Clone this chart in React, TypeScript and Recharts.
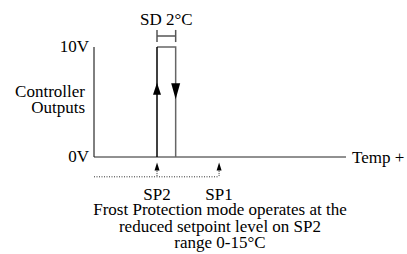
import React from "react";
import {
  ComposedChart,
  Line,
  Scatter,
  XAxis,
  YAxis,
  ReferenceLine,
  Label,
} from "recharts";

// Temperature positions (schematic units) and output levels (V)
const SP2 = 6.75;
const SD = 2;
const SP1 = 13.4;
const V_MIN = 0;
const V_MAX = 10;

const xDomain = [0, 27];
const yDomain = [-2, 13];

const riseSeries = [
  { t: SP2, v: V_MIN },
  { t: SP2, v: V_MAX },
];
const fallSeries = [
  { t: SP2, v: V_MAX },
  { t: SP2 + SD, v: V_MAX },
  { t: SP2 + SD, v: V_MIN },
];
const upArrowPts = [{ t: SP2, v: 6.75 }];
const downArrowPts = [{ t: SP2 + SD, v: 5.25 }];
const spMarkerPts = [
  { t: SP2, v: -0.5 },
  { t: SP1, v: -0.5 },
];
const spTicks = [SP2, SP1];
const spTickLabels = ["SP2", "SP1"];
const vTicks = [V_MIN, V_MAX];
const vTickLabels = ["0V", "10V"];
const sdBracketLevel = 11;
const dottedLevel = -1.8;

const yLabelLines = ["Controller", "Outputs"];
const noteLines = [
  "Frost Protection mode operates at the",
  "reduced setpoint level on SP2",
  "range 0-15°C",
];

const FONT = "'Liberation Serif', 'Times New Roman', serif";
const FS = 17;

const UpArrow = (props: any) => {
  const { cx, cy } = props;
  return (
    <path
      d={`M${cx},${cy} L${cx + 4},${cy + 12} L${cx - 4},${cy + 12} Z`}
      fill="#000"
    />
  );
};

const DownArrow = (props: any) => {
  const { cx, cy } = props;
  return (
    <path
      d={`M${cx},${cy} L${cx + 4.5},${cy - 16} L${cx - 4.5},${cy - 16} Z`}
      fill="#000"
    />
  );
};

const SmallArrow = (props: any) => {
  const { cx, cy } = props;
  return (
    <path
      d={`M${cx},${cy} L${cx + 2.5},${cy + 8} L${cx - 2.5},${cy + 8} Z`}
      fill="#000"
    />
  );
};

const XTick = (props: any) => {
  const { x, y, payload } = props;
  const idx = spTicks.indexOf(payload.value);
  return (
    <text
      x={x}
      y={y + 21}
      textAnchor="middle"
      fontFamily={FONT}
      fontSize={FS}
      fill="#000"
    >
      {spTickLabels[idx]}
    </text>
  );
};

const YTick = (props: any) => {
  const { x, y, payload } = props;
  const idx = vTicks.indexOf(payload.value);
  return (
    <text
      x={x}
      y={y + 5}
      textAnchor="end"
      fontFamily={FONT}
      fontSize={FS}
      fill="#000"
    >
      {vTickLabels[idx]}
    </text>
  );
};

const NoteLabel = (props: any) => {
  const { viewBox } = props;
  const cx = viewBox.x + viewBox.width / 2;
  const offsets = [36, 52.5, 69];
  return (
    <text textAnchor="middle" fontFamily={FONT} fontSize={FS} fill="#000">
      {noteLines.map((l, i) => (
        <tspan key={i} x={cx} y={viewBox.y + offsets[i]}>
          {l}
        </tspan>
      ))}
    </text>
  );
};

const YTitle = (props: any) => {
  const { viewBox } = props;
  const right = viewBox.x + viewBox.width;
  const offsets = [83, 99];
  return (
    <text textAnchor="end" fontFamily={FONT} fontSize={FS} fill="#000">
      {yLabelLines.map((l, i) => (
        <tspan key={i} x={right - 9} y={viewBox.y + offsets[i]}>
          {l}
        </tspan>
      ))}
    </text>
  );
};

export default function App() {
  return (
    <div style={{ position: "absolute", left: 0, top: 0 }}>
      <ComposedChart
        width={407}
        height={254}
        margin={{ top: 14, right: 61, bottom: 0, left: 0 }}
      >
        <XAxis
          dataKey="t"
          type="number"
          domain={xDomain}
          ticks={spTicks}
          tick={<XTick />}
          axisLine={false}
          tickLine={false}
          tickSize={0}
          tickMargin={0}
          height={75}
          allowDataOverflow
        >
          <Label content={<NoteLabel />} />
        </XAxis>
        <YAxis
          type="number"
          domain={yDomain}
          ticks={vTicks}
          tick={<YTick />}
          axisLine={false}
          tickLine={false}
          tickSize={0}
          tickMargin={5}
          width={94}
          allowDataOverflow
        >
          <Label content={<YTitle />} />
        </YAxis>

        {/* Axes */}
        <ReferenceLine
          segment={[
            { x: 0, y: V_MIN },
            { x: 0, y: V_MAX },
          ]}
          stroke="#000"
          strokeWidth={1}
        />
        <ReferenceLine y={0} stroke="#222" strokeWidth={1}>
          <Label
            value="Temp +"
            position="right"
            offset={6}
            fontFamily={FONT}
            fontSize={FS}
            fill="#000"
          />
        </ReferenceLine>

        {/* SD bracket */}
        <ReferenceLine
          segment={[
            { x: SP2, y: sdBracketLevel },
            { x: SP2 + SD, y: sdBracketLevel },
          ]}
          stroke="#555"
          strokeWidth={1.5}
        >
          <Label
            value="SD 2°C"
            position="top"
            offset={11}
            fontFamily={FONT}
            fontSize={FS}
            fill="#000"
          />
        </ReferenceLine>
        <ReferenceLine
          segment={[
            { x: SP2, y: sdBracketLevel - 0.55 },
            { x: SP2, y: sdBracketLevel + 0.55 },
          ]}
          stroke="#555"
          strokeWidth={1.5}
        />
        <ReferenceLine
          segment={[
            { x: SP2 + SD, y: sdBracketLevel - 0.55 },
            { x: SP2 + SD, y: sdBracketLevel + 0.55 },
          ]}
          stroke="#555"
          strokeWidth={1.5}
        />

        {/* dotted range line and SP stems */}
        <ReferenceLine
          segment={[
            { x: 0, y: dottedLevel },
            { x: SP1, y: dottedLevel },
          ]}
          stroke="#333"
          strokeDasharray="1 1.5"
        />
        {spTicks.map((s, i) => (
          <ReferenceLine
            key={i}
            segment={[
              { x: s, y: -0.9 },
              { x: s, y: dottedLevel },
            ]}
            stroke="#333"
            strokeDasharray="1 1"
          />
        ))}

        {/* Hysteresis loop */}
        <Line
          data={fallSeries}
          dataKey="v"
          type="linear"
          stroke="#666"
          strokeWidth={1.5}
          dot={false}
          activeDot={false}
          isAnimationActive={false}
        />
        <Line
          data={riseSeries}
          dataKey="v"
          type="linear"
          stroke="#000"
          strokeWidth={1.5}
          dot={false}
          activeDot={false}
          isAnimationActive={false}
        />
        <Scatter
          data={upArrowPts}
          dataKey="v"
          shape={<UpArrow />}
          isAnimationActive={false}
        />
        <Scatter
          data={downArrowPts}
          dataKey="v"
          shape={<DownArrow />}
          isAnimationActive={false}
        />
        <Scatter
          data={spMarkerPts}
          dataKey="v"
          shape={<SmallArrow />}
          isAnimationActive={false}
        />
      </ComposedChart>
    </div>
  );
}
